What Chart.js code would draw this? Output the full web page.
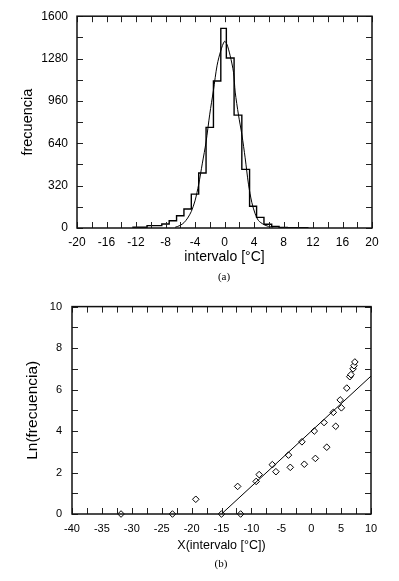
<!DOCTYPE html>
<html>
<head>
<meta charset="utf-8">
<script src="https://cdn.jsdelivr.net/npm/chart.js@4.4.1/dist/chart.umd.min.js"></script>
<style>
  html, body { margin: 0; padding: 0; background: #fff; }
  #wrap { position: relative; width: 399px; height: 581px; overflow: hidden; }
  canvas { position: absolute; left: 0; }
  .cap {
    position: absolute;
    font-family: "Liberation Serif", "DejaVu Serif", serif;
    font-size: 11px;
    line-height: 12px;
    color: #000;
    transform: translateX(-50%);
  }
</style>
</head>
<body>
<div id="wrap">
  <canvas id="histChart" width="399" height="290" style="top:0"></canvas>
  <div class="cap" style="left:224px; top:270px">(a)</div>
  <canvas id="lnChart" width="399" height="291" style="top:290px"></canvas>
  <div class="cap" style="left:221px; top:557px">(b)</div>
</div>
<script>
// (a) histogram: left bin edges + counts (last edge closes the outline)
const binEdges  = [-12.5, -10.5, -8.5, -7.5, -6.5, -5.5, -4.5, -3.5, -2.5, -1.5, -0.5, 0.25, 1.3, 2.35, 3.4, 4.35, 5.35, 6.4, 7.4, 8.5, 11.3];
const binCounts = [6, 18, 30, 55, 92, 143, 256, 415, 760, 1110, 1508, 1284, 853, 443, 164, 80, 28, 12, 5, 2, 0];

// (a) fitted curve
const curveX = [-6.7, -6.0, -5.5, -5.0, -4.5, -4.0, -3.5, -3.0, -2.5, -2.0, -1.5, -1.0, -0.5, 0.0, 0.32, 0.77, 1.22, 1.45, 1.9, 2.36, 2.8, 3.25, 3.7, 4.16, 4.6, 5.3, 5.96, 6.6];
const curveY = [5, 20, 40, 75, 125, 205, 330, 490, 650, 860, 1040, 1230, 1340, 1410, 1389, 1301, 1177, 1027, 853, 704, 530, 331, 194, 107, 57, 27, 12, 7];

// (b) ln(frecuencia) points
const lnX = [-31.8, -23.2, -19.3, -15.0, -12.3, -11.8, -9.2, -8.7, -6.5, -5.9, -3.8, -3.5, -1.55, -1.15, 0.52, 0.7, 2.15, 2.6, 3.7, 4.1, 4.85, 5.05, 5.95, 6.45, 6.65, 7.0, 7.15, 7.3];
const lnY = [0, 0, 0.71, 0, 1.33, 0, 1.57, 1.9, 2.38, 2.04, 2.84, 2.25, 3.48, 2.4, 4.0, 2.68, 4.41, 3.22, 4.9, 4.23, 5.5, 5.12, 6.07, 6.62, 6.72, 7.0, 7.15, 7.33];

// (b) fitted line
const fitX = [-15, 10];
const fitY = [0, 6.65];

const FONT = "'Liberation Sans', Arial, Helvetica, sans-serif";

// ticks pointing inwards on all four sides + the frame
const insideTicks = {
  id: "insideTicks",
  afterDraw(chart, args, opts) {
    const { ctx, chartArea: a } = chart;
    const x = chart.scales.x, y = chart.scales.y;
    ctx.save();
    ctx.strokeStyle = "#222";
    ctx.lineWidth = 1;
    ctx.beginPath();
    for (let v = x.min; v <= x.max + 1e-9; v += opts.xStep) {
      const px = Math.round(x.getPixelForValue(v)) + 0.5;
      ctx.moveTo(px, a.bottom); ctx.lineTo(px, a.bottom - opts.len);
      ctx.moveTo(px, a.top); ctx.lineTo(px, a.top + opts.len);
    }
    for (let v = y.min; v <= y.max + 1e-9; v += opts.yStep) {
      const py = Math.round(y.getPixelForValue(v)) + 0.5;
      ctx.moveTo(a.left, py); ctx.lineTo(a.left + opts.len, py);
      ctx.moveTo(a.right, py); ctx.lineTo(a.right - opts.len, py);
    }
    ctx.stroke();
    ctx.lineWidth = 1.5;
    ctx.strokeStyle = "#111";
    ctx.strokeRect(a.left, a.top, a.width, a.height);
    ctx.restore();
  }
};

function pairs(xs, ys) {
  return xs.map((v, i) => ({ x: v, y: ys[i] }));
}

function axis(extra) {
  return Object.assign({
    type: "linear",
    grid: { display: false, drawTicks: false },
    border: { display: false },
  }, extra);
}

const plain = v => String(v);

new Chart(document.getElementById("histChart"), {
  type: "scatter",
  data: {
    datasets: [
      {
        data: pairs(binEdges, binCounts),
        showLine: true,
        stepped: true,
        borderColor: "#000",
        borderWidth: 1.4,
        pointRadius: 0,
        fill: false
      },
      {
        data: pairs(curveX, curveY),
        showLine: true,
        tension: 0.3,
        borderColor: "#000",
        borderWidth: 1,
        pointRadius: 0,
        fill: false
      }
    ]
  },
  options: {
    responsive: false,
    animation: false,
    devicePixelRatio: 1,
    layout: { padding: { top: 14, right: 27, left: 0, bottom: 0 } },
    plugins: {
      legend: { display: false },
      tooltip: { enabled: false },
      insideTicks: { xStep: 2, yStep: 160, len: 6 }
    },
    scales: {
      x: axis({
        min: -20, max: 20,
        afterFit: s => { s.height = 62; },
        ticks: { stepSize: 4, padding: 7, maxRotation: 0, autoSkip: false, callback: plain, color: "#000", font: { family: FONT, size: 12 } },
        title: { display: true, text: "intervalo [°C]", color: "#000", font: { family: FONT, size: 14 }, padding: { top: 0, bottom: 24 } }
      }),
      y: axis({
        min: 0, max: 1600,
        afterFit: s => { s.width = 77; },
        ticks: { stepSize: 320, padding: 9, callback: plain, color: "#000", font: { family: FONT, size: 12 } },
        title: { display: true, text: "frecuencia", color: "#000", font: { family: FONT, size: 14.5 }, padding: { top: 19, bottom: 0 } }
      })
    }
  },
  plugins: [insideTicks]
});

new Chart(document.getElementById("lnChart"), {
  type: "scatter",
  data: {
    datasets: [
      {
        data: pairs(fitX, fitY),
        showLine: true,
        borderColor: "#000",
        borderWidth: 1,
        pointRadius: 0,
        fill: false
      },
      {
        data: pairs(lnX, lnY),
        pointStyle: "rectRot",
        pointRadius: 3.3,
        pointBorderWidth: 1,
        pointBorderColor: "#000",
        pointBackgroundColor: "#fff",
        showLine: false,
        clip: false
      }
    ]
  },
  options: {
    responsive: false,
    animation: false,
    devicePixelRatio: 1,
    layout: { padding: { top: 14, right: 28, left: 0, bottom: 0 } },
    plugins: {
      legend: { display: false },
      tooltip: { enabled: false },
      insideTicks: { xStep: 2.5, yStep: 1, len: 6 }
    },
    scales: {
      x: axis({
        min: -40, max: 10,
        afterFit: s => { s.height = 67; },
        ticks: { stepSize: 5, padding: 8, maxRotation: 0, autoSkip: false, callback: plain, color: "#000", font: { family: FONT, size: 11 } },
        title: { display: true, text: "X(intervalo [°C])", color: "#000", font: { family: FONT, size: 12.5 }, padding: { top: 0, bottom: 28 } }
      }),
      y: axis({
        min: 0, max: 10,
        afterFit: s => { s.width = 72; },
        ticks: { stepSize: 2, padding: 10, callback: plain, color: "#000", font: { family: FONT, size: 11 } },
        title: { display: true, text: "Ln(frecuencia)", color: "#000", font: { family: FONT, size: 15.5 }, padding: { top: 23, bottom: 0 } }
      })
    }
  },
  plugins: [insideTicks]
});
</script>
</body>
</html>
